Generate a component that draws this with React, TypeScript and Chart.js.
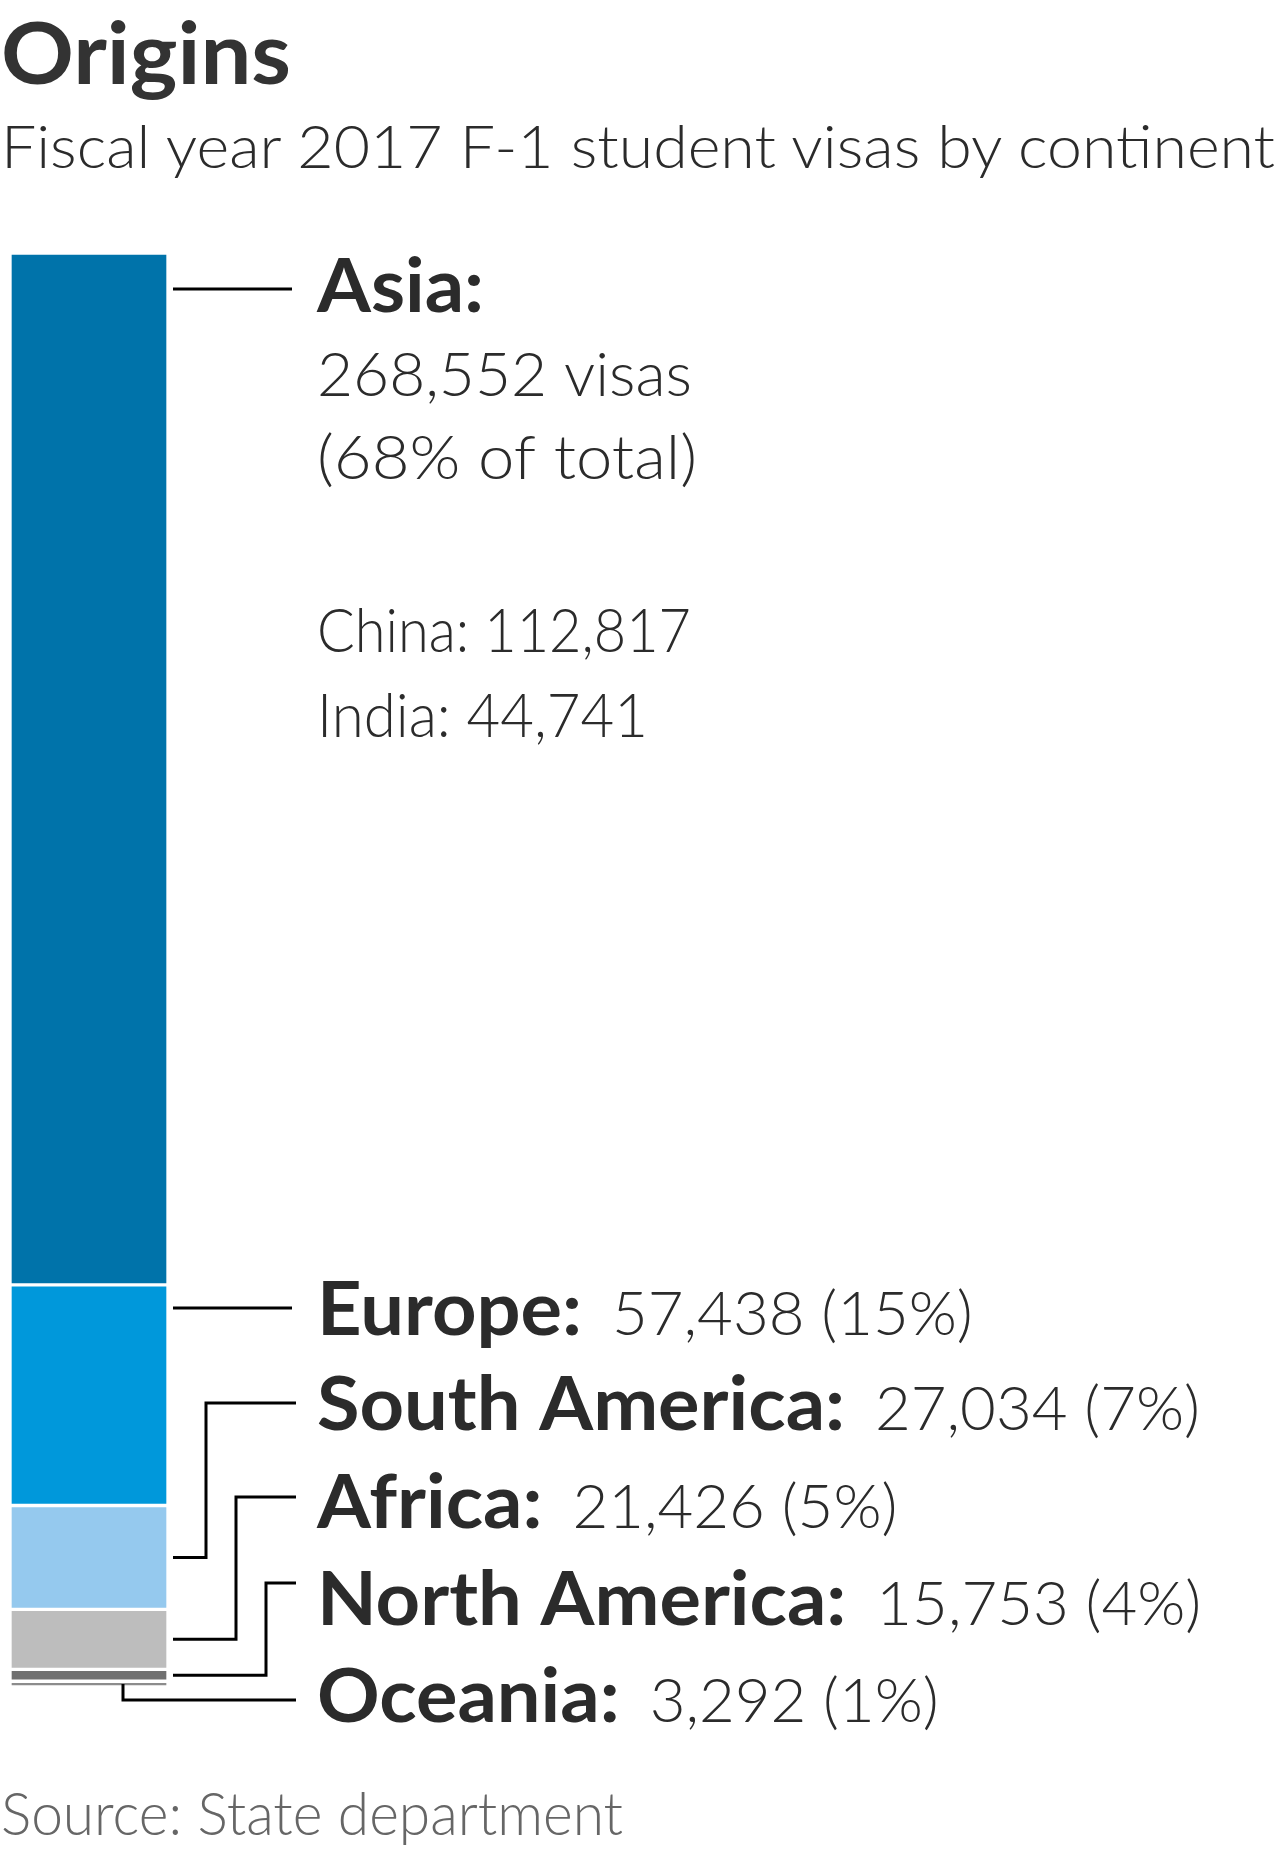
import React, { useEffect, useRef } from 'react';
import { Chart, registerables } from 'chart.js';

Chart.register(...registerables);

// ---------- data ----------
const continents = ['Asia', 'Europe', 'South America', 'Africa', 'North America', 'Oceania'];
const visas = [268552, 57438, 27034, 21426, 15753, 3292];
const shares = [68, 15, 7, 5, 4, 1];
// segment lengths as drawn in the reference bar (in visas)
const segmentVisas = [268552, 57438, 27034, 15600, 3100, 1500];
const segmentColors = ['#0073aa', '#0098db', '#95c9ee', '#bdbdbd', '#707070', '#8c8c8c'];
const topCountries = ['China', 'India'];
const topCountryVisas = [112817, 44741];

const TITLE = 'Origins';
const SUBTITLE = 'Fiscal year 2017 F-1 student visas by continent';
const SOURCE = 'Source: State department';

// ---------- layout ----------
const W = 1280;
const H = 1873;
const BAR_LEFT = 10;
const BAR_RIGHT = 168;
const BAR_TOP = 253;
const BAR_BOTTOM = 1687;
const LABEL_X = 317;
const VALUE_GAP = 30;
const LEADER_X0 = 173;
const LEADER_X1 = 296;
const labelBaseline = [312, 1335, 1430, 1528, 1625, 1722];
const leaderY = [289, 1308, 1403, 1497, 1583, 1700];
const elbowX = [0, 0, 206, 236, 266, 123];
const asiaLineBaselines = [396, 479];
const asiaLineWidths = [375, 380];
const countryBaselines = [652, 737];
const countryLineWidths = [374, 331];

const FONT = 'Lato, "Open Sans", sans-serif';
const BOLD = `700 75px ${FONT}`;
const LIGHT = `300 61px ${FONT}`;
const BOLD_REF = 'South America:';
const BOLD_REF_W = 528;
const LIGHT_REF = '268,552 visas';
const LIGHT_REF_W = 372;
const TEXT = '#2b2b2b';

const fmt = (n: number) => n.toLocaleString('en-US');

function drawText(ctx: CanvasRenderingContext2D, text: string, x: number, y: number, font: string, sx: number, color: string, fitWidth?: number) {
  ctx.save();
  ctx.font = font;
  ctx.fillStyle = color;
  ctx.textBaseline = 'alphabetic';
  ctx.textAlign = 'left';
  const raw = ctx.measureText(text).width;
  const s = fitWidth ? fitWidth / raw : sx;
  ctx.translate(x, y);
  ctx.scale(s, 1);
  ctx.fillText(text, 0, 0);
  ctx.restore();
  return raw * s;
}

const annotPlugin = {
  id: 'annot',
  afterDraw(chart: any) {
    const ctx: CanvasRenderingContext2D = chart.ctx;
    const ys = chart.scales.y;
    ctx.save();
    ctx.font = BOLD;
    const sB = BOLD_REF_W / ctx.measureText(BOLD_REF).width;
    ctx.font = LIGHT;
    const sL = LIGHT_REF_W / ctx.measureText(LIGHT_REF).width;

    let cum = 0;
    continents.forEach((name, i) => {
      const y0 = ys.getPixelForValue(cum);
      cum += segmentVisas[i];
      const y1 = ys.getPixelForValue(cum);
      const mid = (y0 + y1) / 2;
      const ly = leaderY[i];
      ctx.beginPath();
      ctx.strokeStyle = '#000';
      ctx.lineWidth = 3;
      ctx.lineJoin = 'miter';
      ctx.lineCap = 'butt';
      if (ly >= y0 && ly <= y1) {
        ctx.moveTo(LEADER_X0, ly);
        ctx.lineTo(LEADER_X1 - 4, ly);
      } else if (elbowX[i] < chart.chartArea.right) {
        ctx.moveTo(elbowX[i], y1 - 3);
        ctx.lineTo(elbowX[i], ly);
        ctx.lineTo(LEADER_X1, ly);
      } else {
        ctx.moveTo(LEADER_X0, mid);
        ctx.lineTo(elbowX[i], mid);
        ctx.lineTo(elbowX[i], ly);
        ctx.lineTo(LEADER_X1, ly);
      }
      ctx.stroke();

      const lw = drawText(ctx, name + ':', LABEL_X, labelBaseline[i], BOLD, sB, TEXT);
      if (i === 0) {
        drawText(ctx, `${fmt(visas[0])} visas`, LABEL_X, asiaLineBaselines[0], LIGHT, sL, TEXT, asiaLineWidths[0]);
        drawText(ctx, `(${shares[0]}% of total)`, LABEL_X, asiaLineBaselines[1], LIGHT, sL, TEXT, asiaLineWidths[1]);
        topCountries.forEach((c, k) => {
          drawText(ctx, `${c}: ${fmt(topCountryVisas[k])}`, LABEL_X, countryBaselines[k], LIGHT, sL, TEXT, countryLineWidths[k]);
        });
      } else {
        drawText(ctx, `${fmt(visas[i])} (${shares[i]}%)`, LABEL_X + lw + VALUE_GAP, labelBaseline[i], LIGHT, sL, TEXT);
      }
    });
    ctx.restore();
  },
};

export default function App() {
  const canvasRef = useRef<HTMLCanvasElement>(null);
  const titleRef = useRef<HTMLDivElement>(null);
  const subRef = useRef<HTMLDivElement>(null);
  const srcRef = useRef<HTMLDivElement>(null);

  useEffect(() => {
    document.body.style.margin = '0';
    const canvas = canvasRef.current!;
    const mctx = canvas.getContext('2d')!;

    const place = (el: HTMLDivElement | null, font: string, text: string, x: number, baseline: number, width: number) => {
      if (!el) return;
      mctx.save();
      mctx.font = font;
      const m = mctx.measureText(text);
      mctx.restore();
      el.style.font = font;
      el.style.lineHeight = 'normal';
      el.style.left = x + 'px';
      el.style.top = baseline - m.fontBoundingBoxAscent + 'px';
      el.style.transformOrigin = '0 0';
      el.style.transform = `scaleX(${width / m.width})`;
    };
    place(titleRef.current, `700 87px ${FONT}`, TITLE, 1, 84, 290);
    place(subRef.current, `300 59px ${FONT}`, SUBTITLE, 1, 168, 1280);
    place(srcRef.current, `300 59px ${FONT}`, SOURCE, 1, 1835, 622);

    const total = segmentVisas.reduce((a, b) => a + b, 0);
    const chart = new Chart(canvas, {
      type: 'bar',
      data: {
        labels: ['F-1 visas'],
        datasets: continents.map((c, i) => ({
          label: c,
          data: [segmentVisas[i]],
          backgroundColor: segmentColors[i],
          borderColor: '#ffffff',
          borderWidth: 2,
          borderSkipped: false as any,
          barPercentage: 1,
          categoryPercentage: 1,
          stack: 'all',
        })),
      },
      options: {
        responsive: false,
        maintainAspectRatio: false,
        animation: false,
        events: [],
        layout: {
          padding: { left: BAR_LEFT, right: W - BAR_RIGHT, top: BAR_TOP, bottom: H - BAR_BOTTOM },
        },
        plugins: { legend: { display: false }, tooltip: { enabled: false }, title: { display: false } },
        scales: {
          x: { display: false, stacked: true },
          y: { display: false, stacked: true, reverse: true, min: 0, max: total },
        },
      },
      plugins: [annotPlugin],
    });
    return () => chart.destroy();
  }, []);

  const textBase: React.CSSProperties = { position: 'absolute', whiteSpace: 'nowrap', margin: 0 };
  return (
    <div style={{ position: 'relative', width: W, height: H, background: '#fff', overflow: 'hidden' }}>
      <canvas ref={canvasRef} width={W} height={H} style={{ position: 'absolute', left: 0, top: 0, width: W, height: H }} />
      <div ref={titleRef} style={{ ...textBase, color: '#333333' }}>{TITLE}</div>
      <div ref={subRef} style={{ ...textBase, color: '#2b2b2b' }}>{SUBTITLE}</div>
      <div ref={srcRef} style={{ ...textBase, color: '#666666' }}>{SOURCE}</div>
    </div>
  );
}
